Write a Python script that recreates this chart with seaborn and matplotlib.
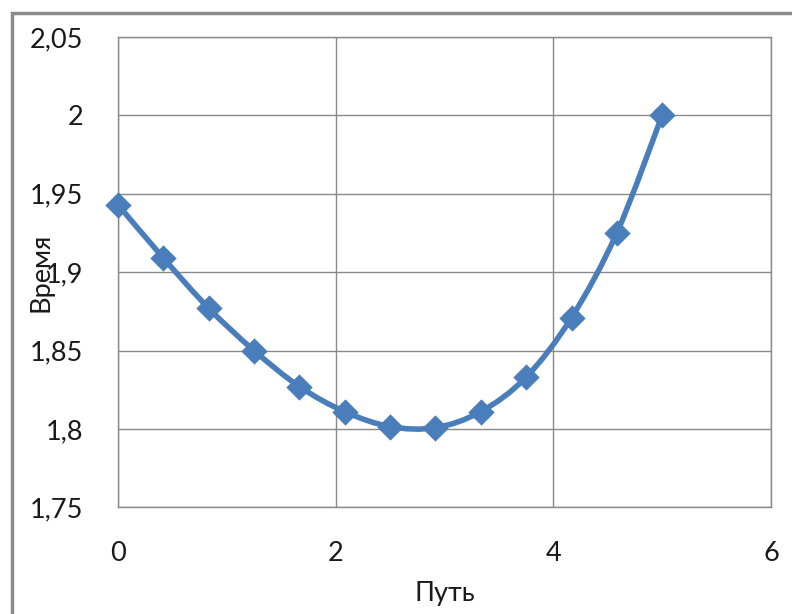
import numpy as np
import pandas as pd
import matplotlib
matplotlib.use("Agg")
import matplotlib.pyplot as plt
from matplotlib.path import Path
from matplotlib.patches import PathPatch, Rectangle
import seaborn as sns

# Measured data: distance (Путь) vs time (Время)
path_vals = [0.0, 0.417, 0.833, 1.25, 1.667, 2.083, 2.5, 2.917, 3.333, 3.75, 4.167, 4.583, 5.0]
time_vals = [1.943, 1.909, 1.877, 1.850, 1.827, 1.811, 1.8015, 1.8008, 1.811, 1.833, 1.871, 1.925, 2.000]

x_ticks = [0, 2, 4, 6]
x_tick_labels = ["0", "2", "4", "6"]
y_ticks = [1.75, 1.80, 1.85, 1.90, 1.95, 2.00, 2.05]
y_tick_labels = ["1,75", "1,8", "1,85", "1,9", "1,95", "2", "2,05"]

x_label = "Путь"
y_label = "Время"

df = pd.DataFrame({x_label: path_vals, y_label: time_vals})

blue = "#4a7ebb"
grid_gray = "#898989"
text_color = "#1a1a1a"
font_size = 19.5

sns.set_style("white")
plt.rcParams["font.family"] = ["Lato", "DejaVu Sans"]

fig = plt.figure(figsize=(7.92, 6.14), dpi=100)
fig.patch.set_facecolor("white")
ax = fig.add_axes([118 / 792, 1 - 507.3 / 614, (771 - 118) / 792, (507.3 - 37) / 614])

# Smoothed connecting line (cubic Bezier segments through each point)
pts = df[[x_label, y_label]].to_numpy()
ext = np.vstack([pts[0], pts, pts[-1]])
verts = [tuple(pts[0])]
codes = [Path.MOVETO]
for i in range(len(pts) - 1):
    p0, p1, p2, p3 = ext[i], ext[i + 1], ext[i + 2], ext[i + 3]
    c1 = p1 + (p2 - p0) / 6.0
    c2 = p2 - (p3 - p1) / 6.0
    verts += [tuple(c1), tuple(c2), tuple(p2)]
    codes += [Path.CURVE4] * 3
ax.add_patch(PathPatch(Path(verts, codes), facecolor="none", edgecolor=blue,
                       lw=4.0, capstyle="round", joinstyle="round", zorder=3))

sns.scatterplot(data=df, x=x_label, y=y_label, marker="D", s=180, color=blue,
                edgecolor=blue, linewidth=0, zorder=4, ax=ax, clip_on=False)

ax.set_xlim(0, 6)
ax.set_ylim(1.75, 2.05)
ax.set_xticks(x_ticks)
ax.set_xticklabels(x_tick_labels)
ax.set_yticks(y_ticks)
ax.set_yticklabels(y_tick_labels)

ax.grid(True, color=grid_gray, lw=1.0)
ax.set_axisbelow(True)
for sp in ax.spines.values():
    sp.set_visible(True)
    sp.set_color(grid_gray)
    sp.set_linewidth(1.0)

ax.tick_params(axis="both", direction="out", length=8, width=1.0, color=grid_gray,
               labelsize=font_size, labelcolor=text_color)
ax.tick_params(axis="y", pad=17)
ax.tick_params(axis="x", pad=16)

ax.set_xlabel(x_label, fontsize=font_size, color=text_color, va="center")
ax.set_ylabel(y_label, fontsize=font_size, color=text_color, va="center")
ax.xaxis.set_label_coords(0.5, (507.3 - 593) / 470.3)
ax.yaxis.set_label_coords((41 - 118) / 653, 0.5)

# Chart frame
fig.patches.append(Rectangle((12 / 792, -0.05), 1.2, 1 - 13 / 614 + 0.05,
                             transform=fig.transFigure, facecolor="none",
                             edgecolor="#8a8a8a", lw=2.5, zorder=0))

fig.savefig("out.png", dpi=100, facecolor="white")
